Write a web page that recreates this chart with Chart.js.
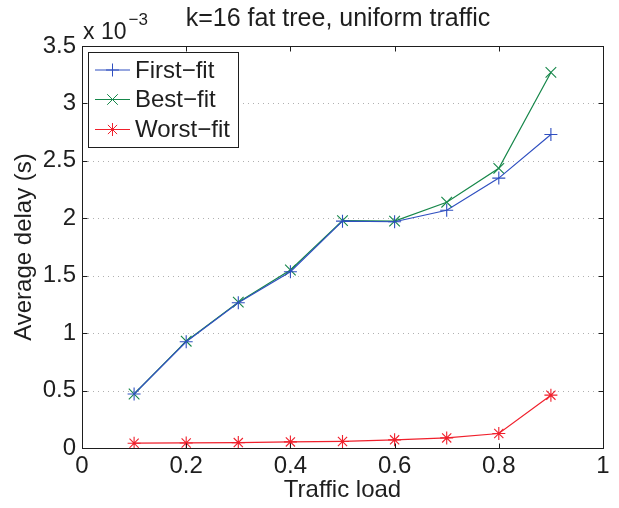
<!DOCTYPE html>
<html>
<head>
<meta charset="utf-8">
<script src="https://cdn.jsdelivr.net/npm/chart.js@4.4.1/dist/chart.umd.min.js"></script>
<style>
  html, body { margin: 0; padding: 0; background: #fff; }
  canvas { display: block; }
</style>
</head>
<body>
<canvas id="c" width="619" height="508"></canvas>
<script>
// Average delay (units of 1e-3 s) versus traffic load for three placement policies
const loads    = [0.1, 0.2, 0.3, 0.4, 0.5, 0.6, 0.7, 0.8, 0.9];
const firstFit = [0.47, 0.925, 1.265, 1.535, 1.975, 1.97, 2.07, 2.35, 2.73];
const bestFit  = [0.47, 0.93, 1.27, 1.55, 1.98, 1.975, 2.14, 2.435, 3.27];
const worstFit = [0.042, 0.044, 0.047, 0.053, 0.057, 0.071, 0.088, 0.126, 0.46];

const seriesNames  = ['First\u2212fit', 'Best\u2212fit', 'Worst\u2212fit'];
const seriesColors = ['#2f4fc0', '#16874a', '#f0202c'];
const seriesMarks  = ['cross', 'crossRot', 'star'];

const titleText  = 'k=16 fat tree, uniform traffic';
const xTitleText = 'Traffic load';
const yTitleText = 'Average delay (s)';
const yScaleBase = 'x 10';
const yScaleExp  = '\u22123';

const xRange = [0, 1, 0.2];
const yRange = [0, 3.5, 0.5];

const FONT = '"Liberation Sans", Arial, Helvetica, sans-serif';
const INK = '#1e1e1e';

function toPoints(values) {
  return values.map((v, i) => ({ x: loads[i], y: v }));
}

// Tick text without trailing zeros: 1 rather than 1.0
function plainNumber(v) {
  return String(+Number(v).toFixed(3));
}

// Small marker painter shared by the legend
function drawMarker(ctx, style, x, y, r) {
  ctx.beginPath();
  if (style === 'cross' || style === 'star') {
    ctx.moveTo(x - r, y); ctx.lineTo(x + r, y);
    ctx.moveTo(x, y - r); ctx.lineTo(x, y + r);
  }
  if (style === 'crossRot' || style === 'star') {
    const d = r * Math.SQRT1_2;
    ctx.moveTo(x - d, y - d); ctx.lineTo(x + d, y + d);
    ctx.moveTo(x - d, y + d); ctx.lineTo(x + d, y - d);
  }
  ctx.stroke();
}

// Dotted horizontal grid under the data, box frame with inward ticks over it
const framePlugin = {
  id: 'frame',
  beforeDatasetsDraw(chart) {
    const { ctx, chartArea: a, scales: { y } } = chart;
    ctx.save();
    ctx.strokeStyle = '#b0b0b0';
    ctx.lineWidth = 1;
    ctx.setLineDash([1, 4]);
    ctx.beginPath();
    y.ticks.forEach(t => {
      if (t.value <= yRange[0] || t.value >= yRange[1]) return;
      const py = Math.round(y.getPixelForValue(t.value)) + 0.5;
      ctx.moveTo(a.left + 6, py); ctx.lineTo(a.right - 6, py);
    });
    ctx.stroke();
    ctx.restore();
  },
  afterDatasetsDraw(chart) {
    const { ctx, chartArea: a, scales: { x, y } } = chart;
    const L = Math.round(a.left) + 0.5, R = Math.round(a.right) + 0.5;
    const T = Math.round(a.top) + 0.5, B = Math.round(a.bottom) + 0.5;
    const tl = 5;
    ctx.save();
    ctx.strokeStyle = INK;
    ctx.lineWidth = 1;
    ctx.beginPath();
    y.ticks.forEach(t => {
      const py = Math.round(y.getPixelForValue(t.value)) + 0.5;
      ctx.moveTo(L, py); ctx.lineTo(L + tl, py);
      ctx.moveTo(R, py); ctx.lineTo(R - tl, py);
    });
    x.ticks.forEach(t => {
      const px = Math.round(x.getPixelForValue(t.value)) + 0.5;
      ctx.moveTo(px, B); ctx.lineTo(px, B - tl);
      ctx.moveTo(px, T); ctx.lineTo(px, T + tl);
    });
    ctx.stroke();
    ctx.strokeRect(L, T, R - L, B - T);
    ctx.restore();
  }
};

// Title, exponent note and in-plot legend
const textPlugin = {
  id: 'texts',
  afterDraw(chart) {
    const { ctx, chartArea: a } = chart;
    ctx.save();
    ctx.fillStyle = INK;
    ctx.textBaseline = 'alphabetic';

    ctx.font = '25px ' + FONT;
    ctx.textAlign = 'center';
    ctx.fillText(titleText, 338, 26);

    ctx.textAlign = 'left';
    ctx.font = '23px ' + FONT;
    ctx.fillText(yScaleBase, a.left + 1, 39);
    const bw = ctx.measureText(yScaleBase).width;
    ctx.font = '17px ' + FONT;
    ctx.fillText(yScaleExp, a.left + 3 + bw, 25);

    // legend
    const lx = 88.5, ly = 52.5, lw = 150, lh = 95;
    ctx.fillStyle = '#fff';
    ctx.fillRect(lx, ly, lw, lh);
    ctx.strokeStyle = INK;
    ctx.lineWidth = 1;
    ctx.strokeRect(lx, ly, lw, lh);
    const rows = [70, 99.5, 129.5];
    chart.data.datasets.forEach((ds, i) => {
      const yy = rows[i];
      ctx.strokeStyle = ds.borderColor;
      ctx.lineWidth = 1;
      ctx.beginPath();
      ctx.moveTo(95, yy); ctx.lineTo(130, yy);
      ctx.stroke();
      drawMarker(ctx, ds.pointStyle, 112.5, yy, ds.pointRadius);
      ctx.fillStyle = INK;
      ctx.font = '24px ' + FONT;
      ctx.textBaseline = 'middle';
      ctx.fillText(ds.label, 135, yy + 1);
    });
    ctx.restore();
  }
};

const datasets = [firstFit, bestFit, worstFit].map((vals, i) => ({
  label: seriesNames[i],
  data: toPoints(vals),
  borderColor: seriesColors[i],
  backgroundColor: seriesColors[i],
  borderWidth: 1.2,
  pointStyle: seriesMarks[i],
  pointRadius: seriesMarks[i] === 'crossRot' ? 7.5 : 6.5,
  pointBorderColor: seriesColors[i],
  pointBorderWidth: 1.1,
  tension: 0
}));

new Chart(document.getElementById('c'), {
  type: 'line',
  data: { datasets },
  plugins: [framePlugin, textPlugin],
  options: {
    responsive: false,
    animation: false,
    devicePixelRatio: 1,
    layout: { padding: { top: 46, right: 16, bottom: 0, left: 0 } },
    plugins: {
      legend: { display: false },
      title: { display: false },
      tooltip: { enabled: false }
    },
    scales: {
      x: {
        type: 'linear',
        min: xRange[0], max: xRange[1],
        afterFit(s) { s.height = 60; },
        border: { display: false },
        grid: { display: false, drawTicks: false },
        ticks: {
          stepSize: xRange[2],
          color: INK,
          padding: 4,
          font: { family: FONT, size: 24 },
          callback: plainNumber
        },
        title: {
          display: true,
          text: xTitleText,
          color: INK,
          font: { family: FONT, size: 24 },
          padding: { top: 0, bottom: 3 }
        }
      },
      y: {
        type: 'linear',
        min: yRange[0], max: yRange[1],
        afterFit(s) { s.width = 82; },
        border: { display: false },
        grid: { drawOnChartArea: false, drawTicks: false },
        ticks: {
          stepSize: yRange[2],
          color: INK,
          padding: 6,
          font: { family: FONT, size: 24 },
          callback: plainNumber
        },
        title: {
          display: true,
          text: yTitleText,
          color: INK,
          font: { family: FONT, size: 24 },
          padding: { top: 10, bottom: 0 }
        }
      }
    }
  }
});
</script>
</body>
</html>
